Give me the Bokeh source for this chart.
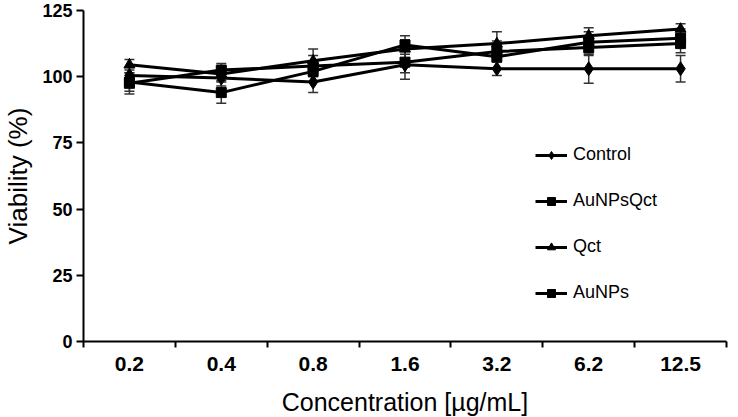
import numpy as np
from bokeh.plotting import figure
from bokeh.models import (ColumnDataSource, FixedTicker, Range1d, Whisker, TeeHead,
                          Legend, LegendItem)
from bokeh.embed import file_html
from bokeh.resources import INLINE

# ---- data ----
concentrations = ["0.2", "0.4", "0.8", "1.6", "3.2", "6.2", "12.5"]
series_names = ["Control", "AuNPsQct", "Qct", "AuNPs"]
control = [100.5, 99.5, 98.0, 104.5, 103.0, 103.0, 103.0]
control_err = [3.0, 3.0, 4.0, 5.5, 2.5, 5.5, 5.0]
aunpsqct = [98.0, 94.0, 102.0, 112.0, 107.5, 113.0, 114.5]
aunpsqct_err = [3.5, 4.0, 4.0, 3.5, 4.5, 4.0, 3.5]
qct = [104.5, 101.0, 106.0, 110.5, 112.5, 115.5, 118.0]
qct_err = [2.0, 2.5, 4.5, 3.5, 4.5, 3.0, 2.0]
aunps = [97.5, 102.5, 104.0, 105.5, 109.5, 111.0, 112.5]
aunps_err = [4.0, 2.5, 4.0, 4.0, 4.0, 3.0, 3.5]
y_ticks = [0, 25, 50, 75, 100, 125]

markers = ["diamond", "square", "triangle", "square"]
msizes = [14, 10, 11, 10]
values = [control, aunpsqct, qct, aunps]
errors = [control_err, aunpsqct_err, qct_err, aunps_err]

n = len(concentrations)
xc = np.arange(n) + 0.5

p = figure(width=729, height=424, output_backend="svg", toolbar_location=None,
           x_range=Range1d(0, n), y_range=Range1d(0, 125),
           min_border_left=73, min_border_right=3, min_border_top=10, min_border_bottom=83)
p.grid.visible = False
p.outline_line_color = None
p.background_fill_color = "white"
p.border_fill_color = "white"

FONT = "Liberation Sans"

# x axis: labels at category centres, tick marks at category boundaries
p.xaxis.ticker = FixedTicker(ticks=list(xc), minor_ticks=list(range(n + 1)))
p.xaxis.major_label_overrides = {float(x): c for x, c in zip(xc, concentrations)}
p.xaxis.major_tick_line_color = None
p.xaxis.major_tick_out = 6
p.xaxis.minor_tick_out = 6
p.xaxis.minor_tick_in = 0
p.xaxis.minor_tick_line_width = 2
p.xaxis.minor_tick_line_color = "black"
p.xaxis.axis_label = "Concentration [µg/mL]"

p.yaxis.ticker = FixedTicker(ticks=y_ticks, minor_ticks=[])
p.yaxis.major_tick_out = 7
p.yaxis.major_tick_in = 0
p.yaxis.major_tick_line_width = 2
p.yaxis.axis_label = "Viability (%)"

for ax in (p.xaxis[0], p.yaxis[0]):
    ax.axis_line_width = 2
    ax.axis_line_color = "black"
    ax.major_label_text_font = FONT
    ax.major_label_text_font_style = "bold"
    ax.major_label_text_color = "black"
    ax.axis_label_text_font = FONT
    ax.axis_label_text_font_style = "normal"
    ax.axis_label_text_color = "black"
p.xaxis.axis_label_text_font_size = "25px"
p.yaxis.axis_label_text_font_size = "26px"
p.xaxis.major_label_text_font_size = "21px"
p.yaxis.major_label_text_font_size = "18px"
p.xaxis.major_label_standoff = 9
p.xaxis.axis_label_standoff = 14
p.yaxis.major_label_standoff = 4
p.yaxis.axis_label_standoff = 6

items = []
for name, vals, errs, mk, ms in zip(series_names, values, errors, markers, msizes):
    v = np.array(vals)
    e = np.array(errs)
    src = ColumnDataSource(dict(x=xc, y=v, upper=v + e, lower=v - e))
    w = Whisker(source=src, base="x", upper="upper", lower="lower", dimension="height",
                line_color="#333333", line_width=1.5,
                upper_head=TeeHead(size=10, line_color="#333333", line_width=1.5),
                lower_head=TeeHead(size=10, line_color="#333333", line_width=1.5))
    p.add_layout(w)
    ln = p.line("x", "y", source=src, line_color="black", line_width=3)
    sc = p.scatter("x", "y", source=src, marker=mk, size=ms,
                   fill_color="black", line_color="black")
    items.append(LegendItem(label=name, renderers=[ln, sc]))

legend = Legend(items=items, location=(452, 38), orientation="vertical",
                spacing=25, padding=0, margin=0, glyph_width=32, glyph_height=20,
                label_height=20, label_standoff=6,
                label_text_font=FONT, label_text_font_size="18px",
                label_text_color="black",
                border_line_color=None, background_fill_alpha=0)
p.add_layout(legend, "center")

open("out.html", "w").write(file_html(p, INLINE))
